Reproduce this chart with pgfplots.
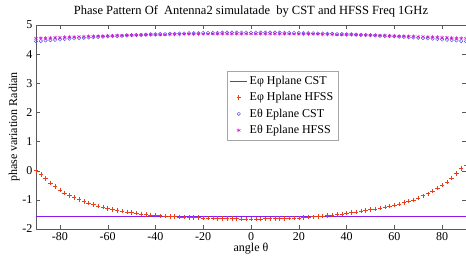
\documentclass[border=0pt]{standalone}
\usepackage{fontspec}
\setmainfont{Liberation Serif}
\usepackage{pgfplots}
\usepackage{pgfplotstable}
\pgfplotsset{compat=1.18}
\definecolor{cstH}{HTML}{8A1AF0}
\definecolor{hfssH}{HTML}{E8401A}
\definecolor{cstE}{HTML}{5050F5}
\definecolor{hfssE}{HTML}{D010C8}
\pgfplotstableread{
x hc hh ec eh
-90 -1.56 0.00 4.44 4.54
-88 -1.56 -0.13 4.45 4.55
-86 -1.56 -0.27 4.47 4.55
-84 -1.56 -0.42 4.48 4.56
-82 -1.56 -0.54 4.49 4.57
-80 -1.56 -0.66 4.50 4.57
-78 -1.56 -0.77 4.52 4.58
-76 -1.56 -0.85 4.53 4.59
-74 -1.56 -0.92 4.54 4.59
-72 -1.56 -0.99 4.55 4.60
-70 -1.56 -1.05 4.56 4.60
-68 -1.56 -1.11 4.57 4.61
-66 -1.56 -1.16 4.58 4.61
-64 -1.56 -1.21 4.59 4.62
-62 -1.56 -1.25 4.60 4.62
-60 -1.56 -1.29 4.61 4.63
-58 -1.56 -1.33 4.62 4.63
-56 -1.56 -1.36 4.62 4.64
-54 -1.56 -1.39 4.63 4.64
-52 -1.56 -1.42 4.64 4.65
-50 -1.56 -1.44 4.65 4.65
-48 -1.56 -1.46 4.66 4.65
-46 -1.56 -1.48 4.66 4.66
-44 -1.56 -1.50 4.67 4.66
-42 -1.56 -1.52 4.68 4.67
-40 -1.56 -1.53 4.68 4.67
-38 -1.56 -1.545 4.69 4.67
-36 -1.56 -1.555 4.69 4.67
-34 -1.56 -1.565 4.70 4.68
-32 -1.56 -1.575 4.70 4.68
-30 -1.56 -1.585 4.71 4.68
-28 -1.56 -1.59 4.71 4.69
-26 -1.56 -1.60 4.72 4.69
-24 -1.56 -1.605 4.72 4.69
-22 -1.56 -1.612 4.72 4.69
-20 -1.56 -1.618 4.73 4.69
-18 -1.56 -1.624 4.73 4.69
-16 -1.56 -1.63 4.73 4.70
-14 -1.56 -1.635 4.73 4.70
-12 -1.56 -1.64 4.74 4.70
-10 -1.56 -1.643 4.74 4.70
-8 -1.56 -1.646 4.74 4.70
-6 -1.56 -1.648 4.74 4.70
-4 -1.56 -1.65 4.74 4.70
-2 -1.56 -1.65 4.74 4.70
0 -1.56 -1.65 4.74 4.70
2 -1.56 -1.65 4.74 4.70
4 -1.56 -1.65 4.74 4.70
6 -1.56 -1.649 4.74 4.70
8 -1.56 -1.648 4.74 4.70
10 -1.56 -1.646 4.74 4.70
12 -1.56 -1.643 4.74 4.70
14 -1.56 -1.638 4.73 4.70
16 -1.56 -1.632 4.73 4.70
18 -1.56 -1.625 4.73 4.69
20 -1.56 -1.615 4.73 4.69
22 -1.56 -1.605 4.72 4.69
24 -1.56 -1.594 4.72 4.69
26 -1.56 -1.58 4.72 4.69
28 -1.56 -1.566 4.71 4.69
30 -1.56 -1.55 4.71 4.68
32 -1.56 -1.534 4.70 4.68
34 -1.56 -1.517 4.70 4.68
36 -1.56 -1.498 4.69 4.67
38 -1.56 -1.479 4.69 4.67
40 -1.56 -1.46 4.68 4.67
42 -1.56 -1.44 4.68 4.67
44 -1.56 -1.41 4.67 4.66
46 -1.56 -1.385 4.66 4.66
48 -1.56 -1.36 4.66 4.65
50 -1.56 -1.335 4.65 4.65
52 -1.56 -1.31 4.64 4.65
54 -1.56 -1.285 4.63 4.64
56 -1.56 -1.255 4.62 4.64
58 -1.56 -1.215 4.62 4.63
60 -1.56 -1.175 4.61 4.63
62 -1.56 -1.135 4.60 4.62
64 -1.56 -1.09 4.59 4.62
66 -1.56 -1.045 4.58 4.61
68 -1.56 -1.00 4.57 4.61
70 -1.56 -0.93 4.56 4.60
72 -1.56 -0.86 4.55 4.60
74 -1.56 -0.79 4.54 4.59
76 -1.56 -0.70 4.53 4.59
78 -1.56 -0.60 4.52 4.58
80 -1.56 -0.50 4.50 4.57
82 -1.56 -0.39 4.49 4.57
84 -1.56 -0.25 4.48 4.56
86 -1.56 -0.09 4.47 4.55
88 -1.56 0.07 4.45 4.55
90 -1.56 0.20 4.44 4.54
}\data
\begin{document}
\begin{tikzpicture}
\begin{axis}[
  scale only axis,
  width=430pt, height=204pt,
  xmin=-90, xmax=90, ymin=-2, ymax=5,
  xtick={-80,-60,...,80}, ytick={-2,-1,...,5},
  tick align=inside,
  axis line style={draw=black!65},
  tick style={draw=black!65},
  /pgf/number format/assume math mode=true,
  tick label style={font=\fontsize{12}{12}\selectfont},
  label style={font=\fontsize{12}{12}\selectfont},
  title style={font=\fontsize{12.5}{12.5}\selectfont, yshift=-2pt},
  title={Phase Pattern Of\ \ Antenna2 simulatade\ \ by CST and HFSS Freq 1GHz},
  xlabel={angle θ},
  ylabel={phase variation Radian},
  xlabel style={yshift=4pt},
  ylabel style={yshift=-4pt},
  legend style={at={(axis cs:-10,3.41)}, anchor=north west, draw=black!35,
    font=\fontsize{12}{12}\selectfont, row sep=2.6pt, inner sep=2.5pt},
  legend cell align=left,
  clip=true,
]
\addplot[cstH, thick, no markers] table[x=x,y=hc]{\data};
\addlegendentry{Eφ Hplane CST}
\addplot[hfssH, only marks, mark=+, mark size=2.2pt, mark options={line width=0.55pt}] table[x=x,y=hh]{\data};
\addlegendentry{Eφ Hplane HFSS}
\addplot[cstE, only marks, mark=o, mark size=1.7pt, mark options={line width=0.45pt}] table[x=x,y=ec]{\data};
\addlegendentry{Eθ Eplane CST}
\addplot[hfssE, only marks, mark=asterisk, mark size=2pt, mark options={line width=0.45pt}] table[x=x,y=eh]{\data};
\addlegendentry{Eθ Eplane HFSS}
\end{axis}
\pgfresetboundingbox
\path ([xshift=-36pt,yshift=-30pt]current axis.south west) rectangle ([yshift=25pt]current axis.north east);
\end{tikzpicture}
\end{document}
